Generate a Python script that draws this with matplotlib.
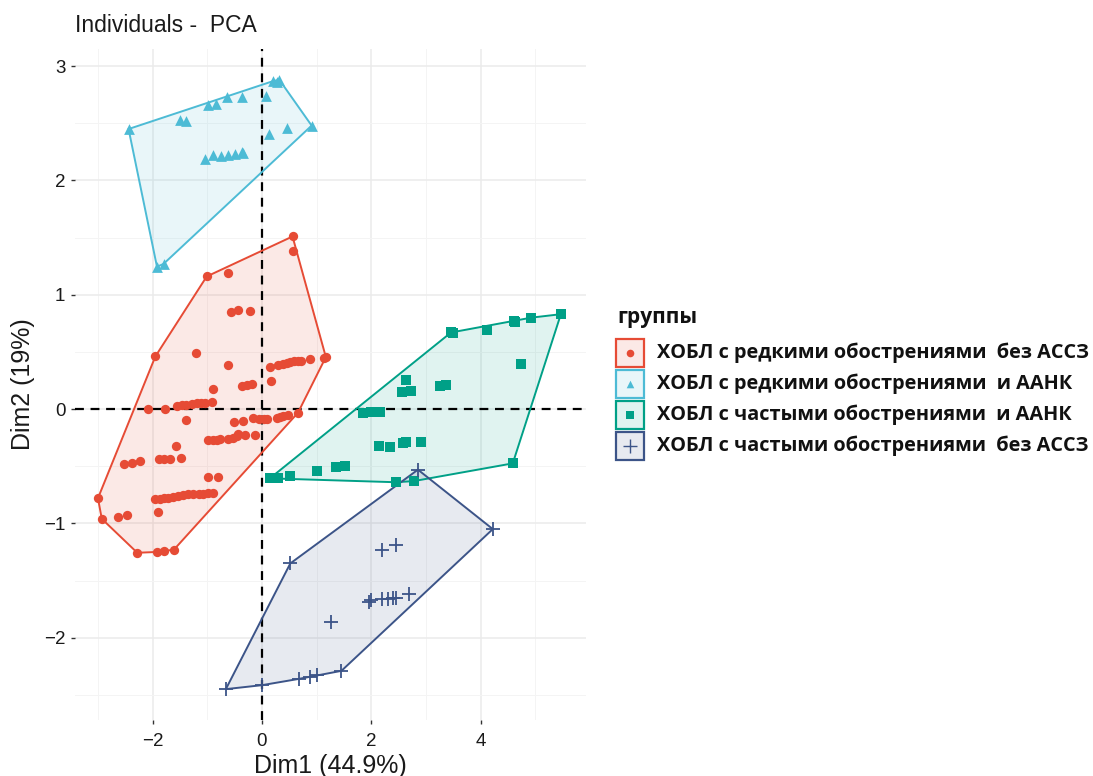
import matplotlib
matplotlib.use("Agg")
import matplotlib.pyplot as plt
from matplotlib.patches import Polygon, Rectangle
import numpy as np

# ---- data: PCA individual coordinates (Dim1, Dim2) by group ----
groups = [
    "ХОБЛ с редкими обострениями  без АССЗ",
    "ХОБЛ с редкими обострениями  и ААНК",
    "ХОБЛ с частыми обострениями  и ААНК",
    "ХОБЛ с частыми обострениями  без АССЗ",
]
colors = ["#E64B35", "#4DBBD5", "#00A087", "#3C5488"]
markers = ["o", "^", "s", "+"]

g1_x = [0.56, 0.56, -1.01, -0.62, -0.57, -0.43, -0.22, -1.21, -1.95, -0.62,
        0.15, 0.30, 0.38, 0.45, 0.52, 0.59, 0.66, 0.72, 0.88, 1.13, 1.17,
        0.16, -0.90, -0.37, -0.28, -0.19,
        -2.09, -1.77, -1.56, -1.47, -1.38, -1.28, -1.19, -1.11, -1.04, -0.92,
        -1.39, -0.51, -0.34,
        -0.16, -0.06, 0.04, 0.09, 0.27, 0.33, 0.39, 0.48, 0.66,
        -0.98, -0.89, -0.83, -0.77, -0.62, -0.52, -0.46, -0.43, -0.31, -0.13,
        -1.58, -2.53, -2.38, -2.23, -1.89, -1.80, -1.68, -1.48, -0.98, -0.80,
        -1.95, -1.87, -1.80, -1.71, -1.62, -1.53, -1.44, -1.35, -1.26, -1.16, -1.07, -0.98, -0.89,
        -1.91, -3.00, -2.93, -2.64, -2.46, -2.28, -1.92, -1.80, -1.61]
g1_y = [1.51, 1.38, 1.16, 1.19, 0.85, 0.87, 0.86, 0.49, 0.46, 0.385,
        0.37, 0.385, 0.395, 0.405, 0.41, 0.417, 0.42, 0.42, 0.435, 0.45, 0.455,
        0.245, 0.175, 0.20, 0.21, 0.22,
        0.0, 0.0, 0.026, 0.035, 0.04, 0.045, 0.05, 0.053, 0.055, 0.064,
        -0.096, -0.116, -0.105,
        -0.08, -0.085, -0.088, -0.09, -0.076, -0.07, -0.061, -0.052, -0.032,
        -0.27, -0.27, -0.268, -0.265, -0.26, -0.25, -0.235, -0.22, -0.23, -0.23,
        -0.32, -0.48, -0.475, -0.45, -0.44, -0.44, -0.44, -0.43, -0.59, -0.59,
        -0.79, -0.785, -0.78, -0.775, -0.77, -0.76, -0.75, -0.745, -0.74, -0.74, -0.74, -0.735, -0.73,
        -0.90, -0.78, -0.96, -0.94, -0.93, -1.257, -1.25, -1.24, -1.23]

g2_x = [-2.44, -1.92, -1.80, -1.50, -1.39, -0.98, -0.84, -0.645, -0.37, 0.07,
        0.21, 0.27, 0.32, 0.13, 0.45, 0.91,
        -1.04, -0.89, -0.74, -0.62, -0.49, -0.37, -0.34]
g2_y = [2.45, 1.245, 1.27, 2.53, 2.52, 2.66, 2.67, 2.73, 2.73, 2.74,
        2.87, 2.86, 2.88, 2.41, 2.46, 2.48,
        2.19, 2.22, 2.21, 2.22, 2.23, 2.25, 2.24]

g3_x = [5.47, 4.93, 4.62, 4.64, 4.12, 3.46, 3.50, 4.74, 2.64, 2.57, 2.72, 3.25, 3.37,
        1.85, 2.00, 2.16, 2.14, 2.35, 2.59, 2.64, 2.92, 4.59,
        0.146, 0.30, 0.52, 1.00, 1.36, 1.52, 2.45, 2.78]
g3_y = [0.83, 0.80, 0.77, 0.765, 0.69, 0.67, 0.665, 0.39, 0.25, 0.15, 0.16, 0.20, 0.21,
        -0.038, -0.024, -0.024, -0.32, -0.335, -0.295, -0.286, -0.29, -0.475,
        -0.606, -0.60, -0.586, -0.54, -0.51, -0.50, -0.64, -0.63]

g4_x = [2.855, 4.225, 0.52, 2.20, 2.46, 1.96, 2.00, 2.20, 2.31, 2.39, 2.46, 2.69,
        1.27, -0.66, 0.006, 0.68, 0.88, 1.01, 1.455]
g4_y = [-0.53, -1.05, -1.35, -1.23, -1.19, -1.685, -1.67, -1.66, -1.66, -1.65, -1.65, -1.62,
        -1.86, -2.45, -2.415, -2.36, -2.34, -2.33, -2.29]

group_x = [g1_x, g2_x, g3_x, g4_x]
group_y = [g1_y, g2_y, g3_y, g4_y]

x_ticks = [-2, 0, 2, 4]
y_ticks = [-2, -1, 0, 1, 2, 3]


def convex_hull(xs, ys):
    pts = sorted(set(zip(xs, ys)))
    if len(pts) < 3:
        return pts

    def cross(o, a, b):
        return (a[0] - o[0]) * (b[1] - o[1]) - (a[1] - o[1]) * (b[0] - o[0])

    lower, upper = [], []
    for p in pts:
        while len(lower) >= 2 and cross(lower[-2], lower[-1], p) <= 0:
            lower.pop()
        lower.append(p)
    for p in reversed(pts):
        while len(upper) >= 2 and cross(upper[-2], upper[-1], p) <= 0:
            upper.pop()
        upper.append(p)
    return lower[:-1] + upper[:-1]


def tick_text(t):
    return "\u2212" + str(-t) if t < 0 else str(t)


W, H = 1093, 776
fig = plt.figure(figsize=(W / 100, H / 100), dpi=100)
fig.patch.set_facecolor("white")
plt.rcParams["font.family"] = ["Liberation Sans", "DejaVu Sans"]

left, right, top, bottom = 75, 586, 49, 720
ax = fig.add_axes([left / W, 1 - bottom / H, (right - left) / W, (bottom - top) / H])

ax.set_xlim(-3.42, 5.93)
ax.set_ylim(-2.72, 3.15)

# grid (minimal theme)
ax.set_xticks(x_ticks)
ax.set_yticks(y_ticks)
ax.set_xticks(np.arange(-3, 6, 2), minor=True)
ax.set_yticks(np.arange(-2.5, 3.1, 1.0), minor=True)
ax.grid(True, which="major", color="#EBEBEB", linewidth=1.1, zorder=0)
ax.grid(True, which="minor", color="#F4F4F4", linewidth=0.7, zorder=0)
ax.set_axisbelow(True)
for s in ax.spines.values():
    s.set_visible(False)
ax.tick_params(which="major", length=3, width=1, color="#333333",
               labelsize=13.5, labelcolor="#1a1a1a")
ax.tick_params(axis="x", pad=6)
ax.tick_params(axis="y", pad=4)
ax.tick_params(which="minor", length=0)
ax.set_xticklabels([tick_text(t) for t in x_ticks])
ax.set_yticklabels([tick_text(t) for t in y_ticks])

# reference axes
ax.axhline(0, color="black", linestyle=(0, (4, 3)), linewidth=1.6, zorder=2)
ax.axvline(0, color="black", linestyle=(0, (4, 3)), linewidth=1.6, zorder=2)

# convex hulls and points
for gx, gy, c, m in zip(group_x, group_y, colors, markers):
    hull = convex_hull(gx, gy)
    ax.add_patch(Polygon(hull, closed=True, facecolor=c, alpha=0.12,
                         edgecolor="none", zorder=1))
    ax.add_patch(Polygon(hull, closed=True, facecolor="none",
                         edgecolor=c, linewidth=1.4, zorder=3))
    if m == "+":
        ax.scatter(gx, gy, marker=m, s=110, color=c, linewidths=1.3, zorder=4)
    elif m == "^":
        ax.scatter(gx, gy, marker=m, s=60, color=c, linewidths=0, zorder=4)
    else:
        ax.scatter(gx, gy, marker=m, s=45, color=c, linewidths=0, zorder=4)

ax.set_xlabel("Dim1 (44.9%)", fontsize=18, color="#1a1a1a", labelpad=3)
ax.set_ylabel("Dim2 (19%)", fontsize=18, color="#1a1a1a", labelpad=6)
fig.text(left / W, 1 - 26 / H, "Individuals -  PCA", fontsize=16.5,
         color="#1a1a1a", ha="left", va="center")

# legend drawn in pixel coordinates
lg = fig.add_axes([0, 0, 1, 1])
lg.set_xlim(0, W)
lg.set_ylim(H, 0)
lg.axis("off")
lg.patch.set_alpha(0)
lg.text(617, 318, "группы", fontsize=15, fontweight="bold",
        family=["Open Sans", "DejaVu Sans"], ha="left", va="center", color="#111111")
key = 28
y0 = 339
step = 31
for i, (lab, c, m) in enumerate(zip(groups, colors, markers)):
    yk = y0 + i * step
    lg.add_patch(Rectangle((616, yk), key, key, facecolor=c, alpha=0.12,
                           edgecolor="none"))
    lg.add_patch(Rectangle((616, yk), key, key, facecolor="none",
                           edgecolor=c, linewidth=1.6))
    if m == "+":
        lg.scatter([616 + key / 2], [yk + key / 2], marker=m, s=90, color=c, linewidths=1.0)
    else:
        lg.scatter([616 + key / 2], [yk + key / 2], marker=m, s=30, color=c, linewidths=0)
    lg.text(657, yk + key / 2, lab, fontsize=14.3, fontweight="bold",
            family=["Open Sans", "DejaVu Sans"], ha="left", va="center", color="#111111")

fig.savefig("out.png", dpi=100, facecolor="white")
